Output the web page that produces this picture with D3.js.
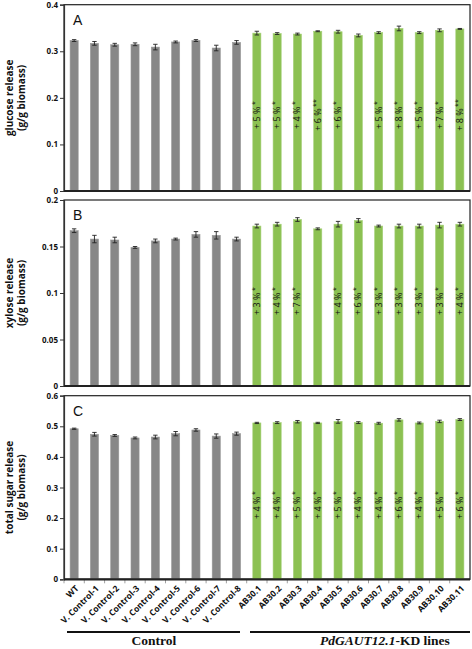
<!DOCTYPE html>
<html><head><meta charset="utf-8">
<script src="https://cdn.jsdelivr.net/npm/d3@7"></script>
<style>
body{margin:0;background:#fff;}
svg{display:block;}
</style></head>
<body>
<svg id="chart" width="472" height="649"></svg>
<script>
const categories = ["WT","V. Control-1","V. Control-2","V. Control-3","V. Control-4","V. Control-5","V. Control-6","V. Control-7","V. Control-8",
  "AB30.1","AB30.2","AB30.3","AB30.4","AB30.5","AB30.6","AB30.7","AB30.8","AB30.9","AB30.10","AB30.11"];
const groups = ["control","control","control","control","control","control","control","control","control",
  "kd","kd","kd","kd","kd","kd","kd","kd","kd","kd","kd"];

const glucose    = [0.323,0.317,0.314,0.315,0.309,0.320,0.323,0.307,0.319, 0.339,0.338,0.337,0.343,0.342,0.334,0.340,0.349,0.340,0.345,0.348];
const glucoseErr = [0.002,0.004,0.003,0.003,0.006,0.002,0.002,0.006,0.004, 0.004,0.002,0.002,0.001,0.003,0.003,0.002,0.005,0.002,0.003,0.001];
const glucoseLbl = ["","","","","","","","","", "+ 5 %|*","+ 5 %|*","+ 4 %|*","+ 6 %|**","+ 6 %|*","","+ 5 %|*","+ 8 %|*","+ 5 %|*","+ 7 %|*","+ 8 %|**"];

const xylose     = [0.167,0.158,0.157,0.149,0.156,0.158,0.163,0.162,0.158, 0.172,0.174,0.179,0.169,0.174,0.178,0.172,0.172,0.172,0.173,0.174];
const xyloseErr  = [0.002,0.004,0.003,0.001,0.002,0.001,0.003,0.004,0.002, 0.002,0.002,0.002,0.001,0.003,0.002,0.001,0.002,0.002,0.003,0.002];
const xyloseLbl  = ["","","","","","","","","", "+ 3 %|*","+ 4 %|*","+ 7 %|*","","+ 4 %|*","+ 6 %|*","+ 3 %|*","+ 3 %|*","+ 3 %|*","+ 3 %|*","+ 4 %|*"];

const total      = [0.492,0.474,0.470,0.462,0.465,0.476,0.488,0.468,0.476, 0.511,0.512,0.515,0.511,0.516,0.512,0.510,0.521,0.511,0.516,0.522];
const totalErr   = [0.002,0.006,0.003,0.003,0.006,0.007,0.004,0.007,0.005, 0.002,0.003,0.004,0.002,0.006,0.003,0.003,0.004,0.003,0.004,0.003];
const totalLbl   = ["","","","","","","","","", "+ 4 %|*","+ 4 %|*","+ 5 %|*","+ 4 %|*","+ 5 %|*","+ 4 %|*","+ 4 %|*","+ 6 %|*","+ 4 %|*","+ 5 %|*","+ 6 %|*"];

const ticksA = [0,0.1,0.2,0.3,0.4];
const ticksB = [0,0.05,0.1,0.15,0.2];
const ticksC = [0,0.1,0.2,0.3,0.4,0.5,0.6];

const panels = [
  {letter:"A", vals:glucose, errs:glucoseErr, lbls:glucoseLbl, ticks:ticksA, max:0.4, top:4.7, bottom:191, title:["glucose release","(g/g biomass)"], lblY:115, xticks:false},
  {letter:"B", vals:xylose, errs:xyloseErr, lbls:xyloseLbl, ticks:ticksB, max:0.2, top:200, bottom:386, title:["xylose release","(g/g biomass)"], lblY:301, xticks:false},
  {letter:"C", vals:total, errs:totalErr, lbls:totalLbl, ticks:ticksC, max:0.6, top:395.7, bottom:579.3, title:["total sugar release","(g/g biomass)"], lblY:505, xticks:true}
];

const SANS = '"Open Sans","Liberation Sans",Arial,sans-serif';
const SERIF = '"Liberation Serif","Times New Roman",serif';

const svg = d3.select("#chart");
const left = 64, right = 470;
const x = d3.scaleBand().domain(categories).range([left, right]).paddingInner(0.6).paddingOuter(0.3);
const colors = {control:"#878787", kd:"#8cc152"};
const strokes = {control:"#9a9a9a", kd:"#a6d07a"};

panels.forEach(p => {
  const y = d3.scaleLinear().domain([0, p.max]).range([p.bottom, p.top]);
  const g = svg.append("g");
  g.append("rect").attr("x", left).attr("y", p.top).attr("width", right-left).attr("height", p.bottom-p.top)
    .attr("fill","none").attr("stroke","#222").attr("stroke-width",1.2);
  const data = categories.map((c,i)=>({c, v:p.vals[i], e:p.errs[i], l:p.lbls[i], grp:groups[i]}));
  g.selectAll("rect.bar").data(data).join("rect").attr("class","bar")
    .attr("x", d=>x(d.c)).attr("width", x.bandwidth())
    .attr("y", d=>y(d.v)).attr("height", d=>y(0)-y(d.v))
    .attr("fill", d=>colors[d.grp]).attr("stroke", d=>strokes[d.grp]).attr("stroke-width",0.6);
  const eb = g.selectAll("g.err").data(data).join("g").attr("class","err")
    .attr("stroke","#222").attr("stroke-width",0.9);
  eb.append("line").attr("x1", d=>x(d.c)+x.bandwidth()/2).attr("x2", d=>x(d.c)+x.bandwidth()/2)
    .attr("y1", d=>y(d.v+d.e)).attr("y2", d=>y(d.v-d.e));
  eb.append("line").attr("x1", d=>x(d.c)+x.bandwidth()/2-2.2).attr("x2", d=>x(d.c)+x.bandwidth()/2+2.2)
    .attr("y1", d=>y(d.v+d.e)).attr("y2", d=>y(d.v+d.e));
  eb.append("line").attr("x1", d=>x(d.c)+x.bandwidth()/2-2.2).attr("x2", d=>x(d.c)+x.bandwidth()/2+2.2)
    .attr("y1", d=>y(d.v-d.e)).attr("y2", d=>y(d.v-d.e));
  const lt = g.selectAll("text.bl").data(data.filter(d=>d.l)).join("text").attr("class","bl")
    .attr("transform", d=>`translate(${x(d.c)+x.bandwidth()/2+3},${p.lblY}) rotate(-90)`)
    .attr("text-anchor","middle").style("font-family",SANS).style("font-size","9px").attr("fill","#111");
  lt.append("tspan").text(d=>d.l.split("|")[0]);
  lt.append("tspan").attr("dy",-3).attr("dx",1.5).style("font-size","7px").text(d=>d.l.split("|")[1]);
  const ax = d3.axisLeft(y).tickValues(p.ticks).tickSize(4).tickFormat(d=>String(d));
  const ag = g.append("g").attr("transform",`translate(${left},0)`).call(ax);
  ag.select(".domain").attr("stroke","#333").attr("stroke-width",1.2);
  ag.selectAll(".tick line").attr("stroke","#333");
  ag.selectAll(".tick text").style("font-family",SANS).style("font-size","8px").style("font-weight","bold").attr("fill","#111").attr("x",-6);
  if (p.xticks) {
    const bg = g.append("g").attr("transform",`translate(0,${p.bottom})`);
    bg.selectAll("line.xt").data(categories).join("line").attr("class","xt")
      .attr("x1", d=>x(d)-x.step()*x.paddingInner()/2).attr("x2", d=>x(d)-x.step()*x.paddingInner()/2)
      .attr("y1",0).attr("y2",4).attr("stroke","#888").attr("stroke-width",0.8);
  }
  g.append("line").attr("x1",left).attr("x2",right).attr("y1",p.bottom).attr("y2",p.bottom)
    .attr("stroke","#222").attr("stroke-width",2.2);
  g.append("text").attr("x",73).attr("y",p.top+20).style("font-size","14px").attr("fill","#111")
    .style("font-family",'"Liberation Sans",Arial,sans-serif').text(p.letter);
  const cy = (p.top+p.bottom)/2;
  const tt = g.append("text").attr("transform",`translate(13,${cy}) rotate(-90)`)
    .attr("text-anchor","middle").style("font-family",SANS).style("font-size","10px").style("font-weight","bold").attr("fill","#111");
  tt.append("tspan").attr("x",0).attr("dy",0).text(p.title[0]);
  tt.append("tspan").attr("x",0).attr("dy",12).text(p.title[1]);
});

svg.selectAll("text.xl").data(categories).join("text").attr("class","xl")
  .attr("transform", d=>`translate(${x(d)+x.bandwidth()/2+5},${589}) rotate(-45)`)
  .attr("text-anchor","end").style("font-family",SANS).style("font-size","8.5px").style("font-weight","bold").attr("fill","#111").text(d=>d);

svg.append("line").attr("x1",67).attr("x2",240).attr("y1",632).attr("y2",632).attr("stroke","#111").attr("stroke-width",2);
svg.append("line").attr("x1",250).attr("x2",470).attr("y1",632).attr("y2",632).attr("stroke","#111").attr("stroke-width",2);
svg.append("text").attr("x",154).attr("y",645).attr("text-anchor","middle").style("font-size","13.5px").style("font-weight","bold")
  .style("font-family",SERIF).attr("fill","#111").text("Control");
const kd = svg.append("text").attr("x",385).attr("y",645).attr("text-anchor","middle").style("font-size","13.5px").style("font-weight","bold")
  .style("font-family",SERIF).attr("fill","#111");
kd.append("tspan").style("font-style","italic").text("PdGAUT12.1");
kd.append("tspan").text("-KD lines");
</script>
</body></html>
